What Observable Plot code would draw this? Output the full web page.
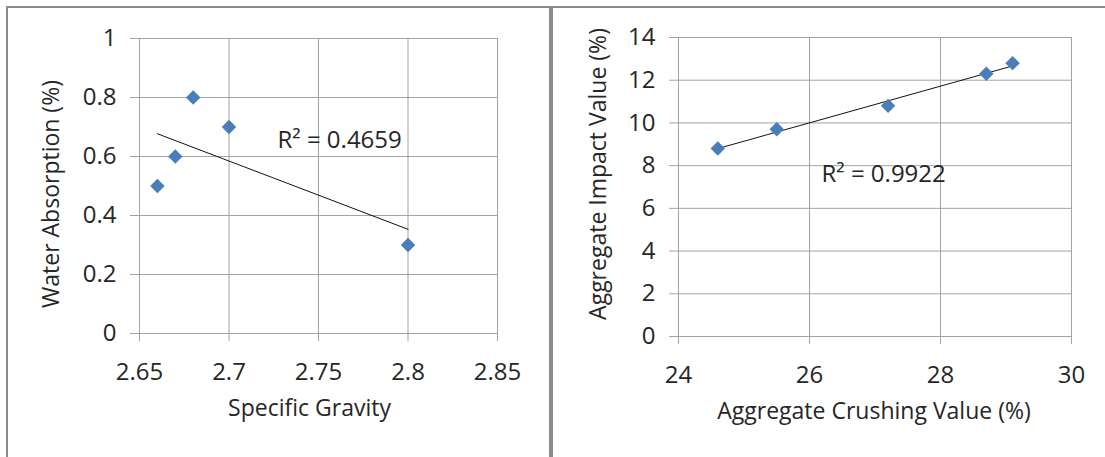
<!DOCTYPE html>
<html>
<head>
<meta charset="utf-8">
<script src="https://cdn.jsdelivr.net/npm/d3@7"></script>
<script src="https://cdn.jsdelivr.net/npm/@observablehq/plot@0.6"></script>
<style>
  html, body { margin: 0; padding: 0; background: #fff; }
  #wrap { position: relative; width: 1105px; height: 457px; overflow: hidden; background: #fff; }
  .chart { position: absolute; top: 0; }
  .panel { position: absolute; box-sizing: border-box; border: 2px solid #8c8c8c; pointer-events: none; }
</style>
</head>
<body>
<div id="wrap">
  <div id="left" class="chart" style="left:0px"></div>
  <div id="right" class="chart" style="left:553px"></div>
  <div class="panel" style="left:6px; top:6px; width:545px; height:470px;"></div>
  <div class="panel" style="left:551px; top:6px; width:600px; height:470px;"></div>
</div>
<script>
// ---- Left chart data: Specific Gravity vs Water Absorption
const specificGravity = [2.66, 2.67, 2.68, 2.70, 2.80];
const waterAbsorption = [0.5, 0.6, 0.8, 0.7, 0.3];
const leftXTicks = [2.65, 2.7, 2.75, 2.8, 2.85];
const leftYTicks = [0, 0.2, 0.4, 0.6, 0.8, 1];
const leftR2 = "R² = 0.4659";
const leftXTitle = "Specific Gravity";
const leftYTitle = "Water Absorption (%)";

// ---- Right chart data: Aggregate Crushing Value vs Aggregate Impact Value
const crushingValue = [24.6, 25.5, 27.2, 28.7, 29.1];
const impactValue = [8.8, 9.7, 10.8, 12.3, 12.8];
const rightXTicks = [24, 26, 28, 30];
const rightYTicks = [0, 2, 4, 6, 8, 10, 12, 14];
const rightR2 = "R² = 0.9922";
const rightXTitle = "Aggregate Crushing Value (%)";
const rightYTitle = "Aggregate Impact Value (%)";

const FONT = "'Open Sans', 'Noto Sans', sans-serif";
const GRID = "#a3a3a3";
const TEXT = "#262626";
const BLUE = "#4a7ebb";
const TICK_FS = 24;
const TITLE_FS = 23;
const R2_FS = 24;

function scatter(opts) {
  const data = opts.xs.map((x, i) => ({x, y: opts.ys[i]}));
  return Plot.plot({
    width: opts.width,
    height: 457,
    marginLeft: opts.ml,
    marginRight: opts.mr,
    marginTop: opts.mt,
    marginBottom: opts.mb,
    x: {domain: [opts.xTicks[0], opts.xTicks[opts.xTicks.length - 1]]},
    y: {domain: [opts.yTicks[0], opts.yTicks[opts.yTicks.length - 1]]},
    style: {fontFamily: FONT, fontSize: TICK_FS + "px", color: TEXT, background: "transparent", overflow: "visible"},
    marks: [
      Plot.gridX(opts.xTicks, {stroke: GRID, strokeOpacity: 1, strokeWidth: 1}),
      Plot.gridY(opts.yTicks, {stroke: GRID, strokeOpacity: 1, strokeWidth: 1}),
      Plot.axisX({ticks: opts.xTicks, tickFormat: d => String(d), tickSize: 8, tickPadding: 21,
                  stroke: GRID, fill: TEXT, fontSize: TICK_FS, label: null}),
      Plot.axisY({ticks: opts.yTicks, tickFormat: d => String(d), tickSize: 9, tickPadding: 14,
                  stroke: GRID, fill: TEXT, fontSize: TICK_FS, label: null}),
      Plot.linearRegressionY(data, {x: "x", y: "y", ci: 0, stroke: "#111", strokeWidth: 1}),
      Plot.dot(data, {x: "x", y: "y", symbol: "diamond2", r: 6.5, fill: BLUE, stroke: "none"}),
      Plot.text([opts.r2], {text: d => d, frameAnchor: "top-left", textAnchor: "start", lineAnchor: "middle",
                  dx: opts.r2dx, dy: opts.r2dy, fill: TEXT, fontSize: R2_FS}),
      Plot.text([opts.xTitle], {text: d => d, frameAnchor: "bottom", textAnchor: "middle", lineAnchor: "middle",
                  dx: opts.xtdx, dy: opts.xtdy, fill: TEXT, fontSize: TITLE_FS}),
      Plot.text([opts.yTitle], {text: d => d, frameAnchor: "left", textAnchor: "middle", lineAnchor: "middle",
                  rotate: -90, dx: opts.ytdx, dy: opts.ytdy, fill: TEXT, fontSize: TITLE_FS})
    ]
  });
}

document.getElementById("left").appendChild(scatter({
  xs: specificGravity, ys: waterAbsorption, xTicks: leftXTicks, yTicks: leftYTicks,
  width: 549, ml: 139, mr: 52, mt: 38, mb: 124,
  r2: leftR2, r2dx: 138, r2dy: 102,
  xTitle: leftXTitle, xtdx: -9, xtdy: 75,
  yTitle: leftYTitle, ytdx: -88, ytdy: 8
}));

document.getElementById("right").appendChild(scatter({
  xs: crushingValue, ys: impactValue, xTicks: rightXTicks, yTicks: rightYTicks,
  width: 552, ml: 125, mr: 34, mt: 37, mb: 121,
  r2: rightR2, r2dx: 143, r2dy: 137,
  xTitle: rightXTitle, xtdx: -1, xtdy: 75,
  yTitle: rightYTitle, ytdx: -80, ytdy: -13
}));
</script>
</body>
</html>
